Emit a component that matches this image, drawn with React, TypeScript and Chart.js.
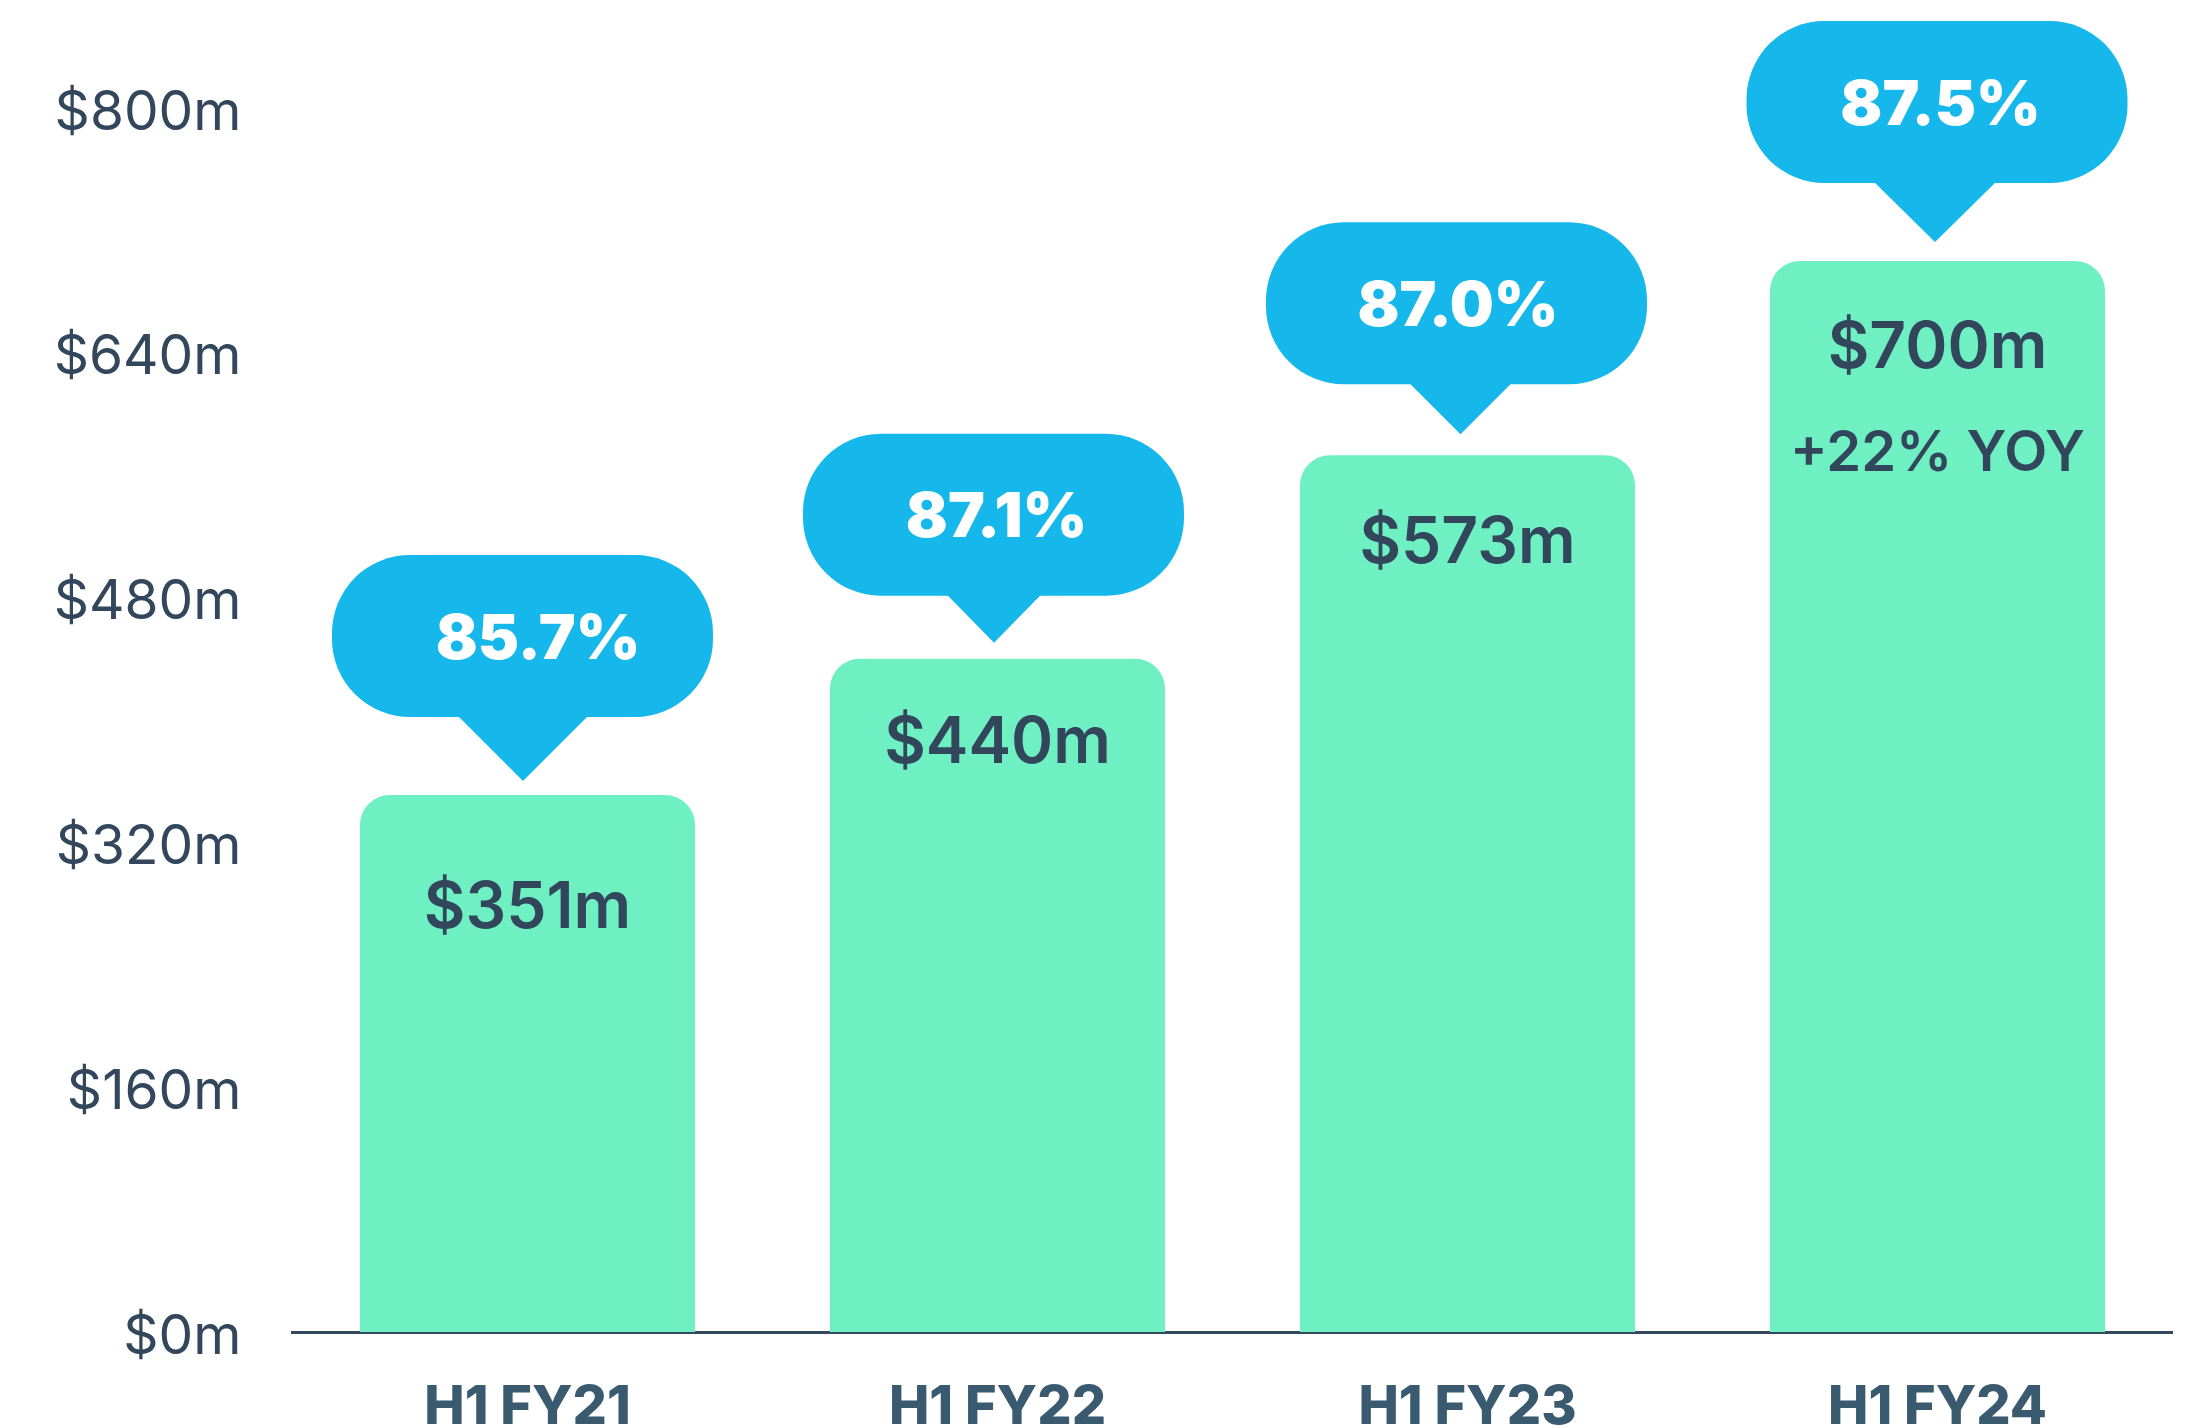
import React, { useEffect, useRef } from 'react';
import { Chart, registerables } from 'chart.js';

Chart.register(...registerables);

// ---- Data ----
const categories = ['H1 FY21', 'H1 FY22', 'H1 FY23', 'H1 FY24'];
const revenue = [351, 440, 573, 700];
const revenueLabels = ['$351m', '$440m', '$573m', '$700m'];
const grossMargin = ['85.7%', '87.1%', '87.0%', '87.5%'];
const yoyLabel = '+22% YOY';
const yTickValues = [0, 160, 320, 480, 640, 800];

// ---- Styling (offsets relative to each bar, in px) ----
const VALUE_LABEL_DROP = [110, 81, 84, 84];
const TIP_GAP = [14, 16, 21, 19];
const TRI_H = [64, 47, 50, 59];
const TRI_HALF = [64, 46, 50, 60];
const BUBBLE_DX = [-5, -4, -11, -0.5];
const TIP_DX = [-4.5, -3.5, -7, -2.5];
const TEXT_DX = [10.5, -1, -9.5, 3];
const BUBBLE_W = 381;
const BUBBLE_H = 162;

const DARK = '#33475c';
const XLABEL = '#3a5a70';
const GREEN = '#6ef0c2';
const BLUE = '#16b7ea';

const calloutPlugin = {
  id: 'callouts',
  afterDatasetsDraw(chart: any) {
    const ctx: CanvasRenderingContext2D = chart.ctx;
    const meta = chart.getDatasetMeta(0);
    const last = meta.data.length - 1;
    meta.data.forEach((bar: any, i: number) => {
      const { x, y } = bar.getProps(['x', 'y'], true);
      ctx.save();
      // value label inside bar
      ctx.fillStyle = DARK;
      ctx.textAlign = 'center';
      ctx.textBaseline = 'alphabetic';
      const vs = 64;
      ctx.font = `600 ${vs}px Inter`;
      ctx.fillText(revenueLabels[i], x, y + VALUE_LABEL_DROP[i] + vs * 0.727 / 2);
      if (i === last) {
        const ys = 56;
        ctx.font = `600 ${ys}px Inter`;
        ctx.fillText(yoyLabel, x, y + 190 + ys * 0.727 / 2);
      }
      // bubble
      const tipX = x + TIP_DX[i];
      const tipY = y - TIP_GAP[i];
      const bottom = tipY - TRI_H[i];
      const top = bottom - BUBBLE_H;
      const cx = x + BUBBLE_DX[i];
      ctx.fillStyle = BLUE;
      ctx.beginPath();
      (ctx as any).roundRect(cx - BUBBLE_W / 2, top, BUBBLE_W, BUBBLE_H, 78);
      ctx.fill();
      ctx.beginPath();
      ctx.moveTo(tipX - TRI_HALF[i] - 2, bottom - 2);
      ctx.lineTo(tipX + TRI_HALF[i] + 2, bottom - 2);
      ctx.lineTo(tipX, tipY);
      ctx.closePath();
      ctx.fill();
      // percentage text
      const ps = 62;
      ctx.fillStyle = '#ffffff';
      ctx.font = `900 ${ps}px Inter`;
      ctx.fillText(grossMargin[i], x + TEXT_DX[i], (top + bottom) / 2 + ps * 0.727 / 2);
      ctx.restore();
    });
  },
};

export default function App() {
  const ref = useRef<HTMLCanvasElement>(null);
  useEffect(() => {
    const chart = new Chart(ref.current as HTMLCanvasElement, {
      type: 'bar',
      data: {
        labels: categories,
        datasets: [
          {
            data: revenue,
            backgroundColor: GREEN,
            borderWidth: 0,
            borderRadius: { topLeft: 30, topRight: 30, bottomLeft: 0, bottomRight: 0 },
            borderSkipped: false,
            barPercentage: 0.713,
            categoryPercentage: 1,
          },
        ],
      },
      options: {
        responsive: false,
        animation: false,
        devicePixelRatio: 1,
        layout: { padding: { top: 108, left: 0, right: 15.5, bottom: 0 } },
        plugins: { legend: { display: false }, tooltip: { enabled: false } },
        scales: {
          x: {
            z: 1,
            grid: { display: false, drawTicks: false },
            border: { display: true, color: '#34495e', width: 3 },
            ticks: {
              color: XLABEL,
              padding: 43,
              font: { family: 'Inter', size: 54, weight: 800 },
            },
            afterFit: (s: any) => {
              s.height = 96;
            },
          },
          y: {
            min: 0,
            max: 800,
            grid: { display: false, drawTicks: false },
            border: { display: false },
            afterBuildTicks: (s: any) => {
              s.ticks = yTickValues.map((v) => ({ value: v }));
            },
            ticks: {
              color: DARK,
              padding: 51,
              labelOffset: 5,
              font: { family: 'Inter', size: 55, weight: 'normal' },
              callback: (v: any) => `$${v}m`,
            },
            afterFit: (s: any) => {
              s.width = 292.5;
            },
          },
        },
      },
      plugins: [calloutPlugin],
    });
    return () => chart.destroy();
  }, []);
  return (
    <div style={{ position: 'fixed', left: 0, top: 0, width: 2188, height: 1428, background: '#ffffff' }}>
      <canvas ref={ref} width={2188} height={1428} style={{ width: 2188, height: 1428, display: 'block' }} />
    </div>
  );
}
